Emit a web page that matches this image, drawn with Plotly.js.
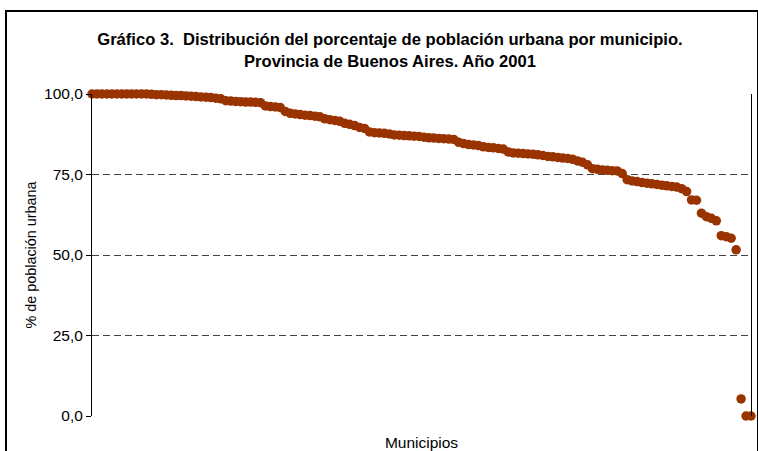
<!DOCTYPE html>
<html>
<head>
<meta charset="utf-8">
<script src="https://cdn.plot.ly/plotly-3.0.1.min.js"></script>
<style>
  html, body { margin: 0; padding: 0; background: #ffffff; overflow: hidden; }
  #chart { width: 758px; height: 451px; }
</style>
</head>
<body>
<div id="chart"></div>
<script>
// Percentage of urban population per municipality, sorted descending (134 partidos)
const urbanPct = [
  100.0, 100.0, 100.0, 100.0, 100.0, 100.0, 100.0, 100.0, 100.0, 100.0,
  100.0, 100.0, 99.9, 99.8, 99.8, 99.7, 99.6, 99.5, 99.5, 99.4,
  99.3, 99.2, 99.1, 99.0, 98.9, 98.7, 98.5, 97.9, 97.8, 97.7,
  97.6, 97.5, 97.5, 97.4, 97.3, 96.3, 96.1, 96.0, 95.8, 94.6,
  94.0, 93.8, 93.6, 93.4, 93.3, 93.1, 92.9, 92.3, 92.0, 91.8,
  91.5, 90.9, 90.6, 90.2, 89.6, 89.3, 88.2, 88.0, 87.9, 87.8,
  87.6, 87.3, 87.2, 87.1, 87.0, 86.9, 86.8, 86.6, 86.4, 86.3,
  86.2, 86.1, 86.0, 85.9, 85.0, 84.6, 84.3, 84.2, 84.0, 83.6,
  83.4, 83.3, 83.1, 82.9, 82.0, 81.7, 81.6, 81.5, 81.4, 81.3,
  81.1, 80.9, 80.6, 80.5, 80.3, 80.1, 80.0, 79.7, 79.2, 78.8,
  78.0, 76.8, 76.6, 76.4, 76.3, 76.2, 76.1, 75.3, 73.4, 73.0,
  72.8, 72.5, 72.3, 72.1, 71.9, 71.7, 71.5, 71.3, 71.1, 70.6,
  69.7, 67.1, 67.0, 63.0, 61.9, 61.4, 60.6, 56.0, 55.7, 55.2,
  51.6, 5.3, 0.0, 0.0
];
const municipioIndex = urbanPct.map((_, i) => i + 1);
const yTickVals = [0, 25, 50, 75, 100];

const titleText = 'Gráfico 3.\u00a0 Distribución del porcentaje de población urbana por municipio.<br>Provincia de Buenos Aires. Año 2001';
const xTitle = 'Municipios';
const yTitle = '% de población urbana';

// pixel geometry
const W = 758, H = 451;
const FL = 7, FR = 757, FT = 12;          // outer chart frame (bottom runs off the page)
const L = 92, R = 751, T = 94, B = 416;   // plot area
const mL = FL, mR = W - FR, mT = FT, mB = 0;
const innerW = W - mL - mR, innerH = H - mT - mB;
const xDom = [(L - mL) / innerW, (R - mL) / innerW];
const yDom = [(H - mB - B) / innerH, (H - mB - T) / innerH];

const FONT = 'Liberation Sans, Arial, sans-serif';

const trace = {
  type: 'scatter',
  mode: 'markers',
  x: municipioIndex,
  y: urbanPct,
  xaxis: 'x', yaxis: 'y',
  marker: { color: '#993300', size: 9.5, line: { width: 0 } },
  hoverinfo: 'y',
  cliponaxis: false
};
// empty trace so the frame subplot exists
const frameTrace = { type: 'scatter', mode: 'markers', x: [], y: [], xaxis: 'x2', yaxis: 'y2', hoverinfo: 'skip' };

const layout = {
  width: W, height: H,
  margin: { l: mL, r: mR, t: mT, b: mB, pad: 0 },
  paper_bgcolor: '#ffffff',
  plot_bgcolor: 'rgba(0,0,0,0)',
  separators: ',.',
  font: { family: FONT, size: 15.5, color: '#000000' },
  showlegend: false,
  title: {
    text: titleText,
    font: { family: FONT, size: 16.6, color: '#000000', weight: 'bold' },
    x: 390 / W, xref: 'container', xanchor: 'center',
    y: 1 - 45 / H, yref: 'container', yanchor: 'top'
  },
  xaxis: {
    domain: xDom, anchor: 'y',
    range: [1, 134],
    showgrid: false, zeroline: false, showline: false,
    showticklabels: false, ticks: '',
    fixedrange: true,
    title: { text: xTitle, font: { size: 15.5 }, standoff: 22 }
  },
  yaxis: {
    domain: yDom, anchor: 'x',
    range: [0, 100],
    tickvals: yTickVals,
    tickformat: '.1f',
    ticks: 'outside', ticklen: 5, tickcolor: '#000000', tickwidth: 1,
    showline: true, linecolor: '#000000', linewidth: 1, mirror: true,
    showgrid: true, gridcolor: '#444444', gridwidth: 1, griddash: '7px,4px',
    zeroline: false,
    tickfont: { size: 15.5 },
    fixedrange: true,
    title: { text: yTitle, font: { size: 14.4 }, standoff: 4 }
  },
  xaxis2: {
    domain: [0, 1], anchor: 'y2', side: 'top',
    range: [0, 1],
    showline: true, linecolor: '#000000', linewidth: 2, mirror: false,
    showgrid: false, zeroline: false, showticklabels: false, ticks: '',
    fixedrange: true
  },
  yaxis2: {
    domain: [0, 1], anchor: 'x2',
    range: [0, 1],
    showline: true, linecolor: '#000000', linewidth: 2, mirror: true,
    showgrid: false, zeroline: false, showticklabels: false, ticks: '',
    fixedrange: true
  }
};

Plotly.newPlot('chart', [frameTrace, trace], layout, { displayModeBar: false, staticPlot: true });
</script>
</body>
</html>
